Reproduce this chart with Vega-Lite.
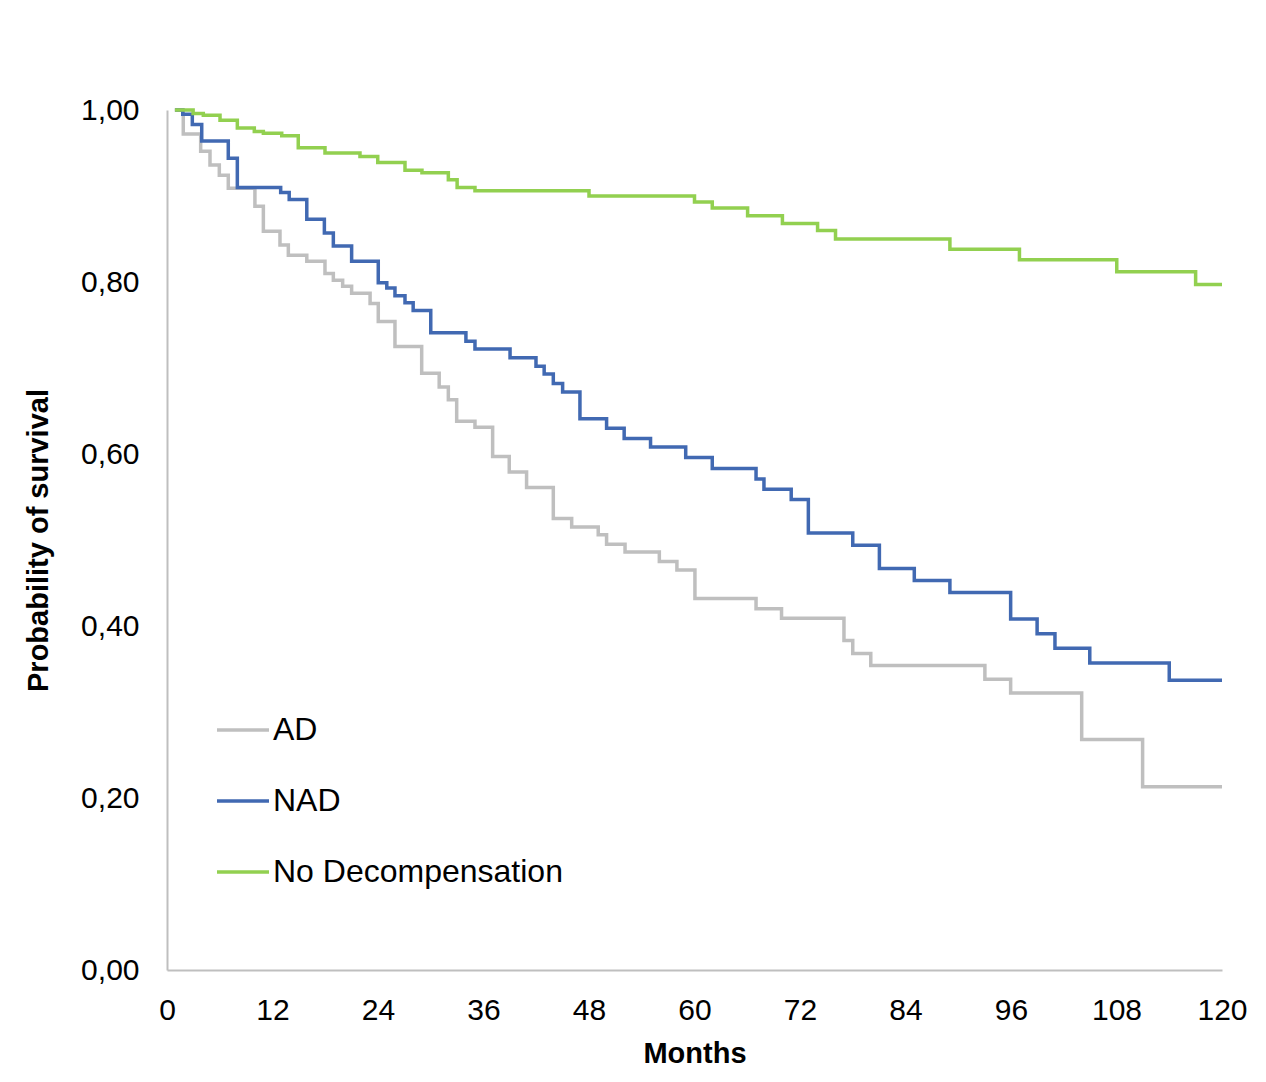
{
  "$schema": "https://vega.github.io/schema/vega-lite/v6.json",
  "width": 1055,
  "height": 860,
  "autosize": {"type": "none"},
  "padding": {"left": 167, "top": 110, "right": 44, "bottom": 112},
  "background": "white",
  "config": {
    "view": {"stroke": null},
    "font": "Liberation Sans",
    "axis": {"grid": false, "ticks": false, "tickSize": 0, "domainColor": "#BFBFBF", "domainWidth": 2, "labelFont": "Liberation Sans", "labelColor": "#000000", "labelFontSize": 30, "titleFont": "Liberation Sans", "titleFontSize": 29, "titleFontWeight": "bold", "titleColor": "#000000"}
  },
  "data": {"values": [
    {"group": "AD", "month": 0.9, "surv": 1.0},
    {"group": "AD", "month": 1.85, "surv": 0.972},
    {"group": "AD", "month": 3.83, "surv": 0.952},
    {"group": "AD", "month": 4.89, "surv": 0.936},
    {"group": "AD", "month": 5.95, "surv": 0.924},
    {"group": "AD", "month": 6.97, "surv": 0.909},
    {"group": "AD", "month": 10.0, "surv": 0.888},
    {"group": "AD", "month": 10.96, "surv": 0.859},
    {"group": "AD", "month": 12.85, "surv": 0.843},
    {"group": "AD", "month": 13.8, "surv": 0.831},
    {"group": "AD", "month": 15.9, "surv": 0.824},
    {"group": "AD", "month": 17.97, "surv": 0.81},
    {"group": "AD", "month": 18.92, "surv": 0.802},
    {"group": "AD", "month": 19.98, "surv": 0.795},
    {"group": "AD", "month": 21.0, "surv": 0.787},
    {"group": "AD", "month": 23.1, "surv": 0.775},
    {"group": "AD", "month": 24.03, "surv": 0.754},
    {"group": "AD", "month": 25.93, "surv": 0.725},
    {"group": "AD", "month": 28.97, "surv": 0.694},
    {"group": "AD", "month": 30.96, "surv": 0.678},
    {"group": "AD", "month": 32.0, "surv": 0.663},
    {"group": "AD", "month": 32.95, "surv": 0.638},
    {"group": "AD", "month": 35.03, "surv": 0.631},
    {"group": "AD", "month": 37.04, "surv": 0.597},
    {"group": "AD", "month": 38.93, "surv": 0.579},
    {"group": "AD", "month": 40.9, "surv": 0.561},
    {"group": "AD", "month": 43.94, "surv": 0.525},
    {"group": "AD", "month": 46.03, "surv": 0.515},
    {"group": "AD", "month": 49.05, "surv": 0.506},
    {"group": "AD", "month": 50.0, "surv": 0.495},
    {"group": "AD", "month": 52.1, "surv": 0.486},
    {"group": "AD", "month": 56.0, "surv": 0.475},
    {"group": "AD", "month": 58.0, "surv": 0.465},
    {"group": "AD", "month": 60.05, "surv": 0.432},
    {"group": "AD", "month": 67.0, "surv": 0.42},
    {"group": "AD", "month": 69.9, "surv": 0.409},
    {"group": "AD", "month": 77.0, "surv": 0.383},
    {"group": "AD", "month": 78.0, "surv": 0.368},
    {"group": "AD", "month": 80.05, "surv": 0.354},
    {"group": "AD", "month": 93.03, "surv": 0.338},
    {"group": "AD", "month": 95.96, "surv": 0.322},
    {"group": "AD", "month": 104.04, "surv": 0.268},
    {"group": "AD", "month": 110.97, "surv": 0.213},
    {"group": "AD", "month": 120.0, "surv": 0.213},
    {"group": "NAD", "month": 0.9, "surv": 1.0},
    {"group": "NAD", "month": 1.79, "surv": 0.995},
    {"group": "NAD", "month": 2.88, "surv": 0.983},
    {"group": "NAD", "month": 3.95, "surv": 0.964},
    {"group": "NAD", "month": 6.97, "surv": 0.944},
    {"group": "NAD", "month": 8.0, "surv": 0.91},
    {"group": "NAD", "month": 12.93, "surv": 0.904},
    {"group": "NAD", "month": 13.9, "surv": 0.896},
    {"group": "NAD", "month": 15.9, "surv": 0.873},
    {"group": "NAD", "month": 17.9, "surv": 0.857},
    {"group": "NAD", "month": 18.92, "surv": 0.842},
    {"group": "NAD", "month": 21.0, "surv": 0.824},
    {"group": "NAD", "month": 24.03, "surv": 0.799},
    {"group": "NAD", "month": 25.0, "surv": 0.793},
    {"group": "NAD", "month": 25.93, "surv": 0.784},
    {"group": "NAD", "month": 27.07, "surv": 0.776},
    {"group": "NAD", "month": 28.0, "surv": 0.767},
    {"group": "NAD", "month": 30.0, "surv": 0.741},
    {"group": "NAD", "month": 34.0, "surv": 0.731},
    {"group": "NAD", "month": 35.03, "surv": 0.722},
    {"group": "NAD", "month": 39.02, "surv": 0.712},
    {"group": "NAD", "month": 41.97, "surv": 0.702},
    {"group": "NAD", "month": 42.9, "surv": 0.693},
    {"group": "NAD", "month": 43.94, "surv": 0.682},
    {"group": "NAD", "month": 45.0, "surv": 0.672},
    {"group": "NAD", "month": 46.97, "surv": 0.641},
    {"group": "NAD", "month": 50.0, "surv": 0.63},
    {"group": "NAD", "month": 52.0, "surv": 0.618},
    {"group": "NAD", "month": 55.0, "surv": 0.608},
    {"group": "NAD", "month": 59.0, "surv": 0.596},
    {"group": "NAD", "month": 62.02, "surv": 0.583},
    {"group": "NAD", "month": 67.0, "surv": 0.571},
    {"group": "NAD", "month": 67.9, "surv": 0.559},
    {"group": "NAD", "month": 71.0, "surv": 0.547},
    {"group": "NAD", "month": 72.95, "surv": 0.508},
    {"group": "NAD", "month": 78.0, "surv": 0.494},
    {"group": "NAD", "month": 81.03, "surv": 0.467},
    {"group": "NAD", "month": 85.0, "surv": 0.453},
    {"group": "NAD", "month": 89.05, "surv": 0.439},
    {"group": "NAD", "month": 95.96, "surv": 0.408},
    {"group": "NAD", "month": 98.97, "surv": 0.391},
    {"group": "NAD", "month": 101.0, "surv": 0.374},
    {"group": "NAD", "month": 104.96, "surv": 0.357},
    {"group": "NAD", "month": 114.0, "surv": 0.337},
    {"group": "NAD", "month": 120.0, "surv": 0.337},
    {"group": "No Decompensation", "month": 0.9, "surv": 1.0},
    {"group": "No Decompensation", "month": 2.97, "surv": 0.996},
    {"group": "No Decompensation", "month": 4.13, "surv": 0.994},
    {"group": "No Decompensation", "month": 6.03, "surv": 0.988},
    {"group": "No Decompensation", "month": 8.0, "surv": 0.979},
    {"group": "No Decompensation", "month": 9.93, "surv": 0.975},
    {"group": "No Decompensation", "month": 10.96, "surv": 0.973},
    {"group": "No Decompensation", "month": 13.05, "surv": 0.97},
    {"group": "No Decompensation", "month": 14.93, "surv": 0.956},
    {"group": "No Decompensation", "month": 17.97, "surv": 0.95},
    {"group": "No Decompensation", "month": 21.95, "surv": 0.946},
    {"group": "No Decompensation", "month": 23.97, "surv": 0.939},
    {"group": "No Decompensation", "month": 27.07, "surv": 0.93},
    {"group": "No Decompensation", "month": 29.0, "surv": 0.927},
    {"group": "No Decompensation", "month": 32.0, "surv": 0.919},
    {"group": "No Decompensation", "month": 33.0, "surv": 0.91},
    {"group": "No Decompensation", "month": 35.03, "surv": 0.906},
    {"group": "No Decompensation", "month": 48.0, "surv": 0.9},
    {"group": "No Decompensation", "month": 60.0, "surv": 0.893},
    {"group": "No Decompensation", "month": 62.02, "surv": 0.886},
    {"group": "No Decompensation", "month": 66.04, "surv": 0.877},
    {"group": "No Decompensation", "month": 70.0, "surv": 0.868},
    {"group": "No Decompensation", "month": 74.0, "surv": 0.86},
    {"group": "No Decompensation", "month": 76.04, "surv": 0.85},
    {"group": "No Decompensation", "month": 89.05, "surv": 0.838},
    {"group": "No Decompensation", "month": 96.96, "surv": 0.826},
    {"group": "No Decompensation", "month": 108.03, "surv": 0.812},
    {"group": "No Decompensation", "month": 117.0, "surv": 0.797},
    {"group": "No Decompensation", "month": 120.0, "surv": 0.797}
  ]},
  "mark": {"type": "line", "interpolate": "step-after", "strokeWidth": 3.5, "clip": false},
  "encoding": {
    "x": {
      "field": "month", "type": "quantitative",
      "scale": {"domain": [0, 120], "nice": false, "zero": false},
      "axis": {"values": [0, 12, 24, 36, 48, 60, 72, 84, 96, 108, 120], "labelPadding": 25, "labelFlush": false, "labelOverlap": false, "title": "Months", "titleY": 83, "titleBaseline": "middle", "titlePadding": 0}
    },
    "y": {
      "field": "surv", "type": "quantitative",
      "scale": {"domain": [0, 1], "nice": false},
      "axis": {"values": [0, 0.2, 0.4, 0.6, 0.8, 1.0], "labelExpr": "replace(format(datum.value, '.2f'), '.', ',')", "labelPadding": 28, "labelFlush": false, "labelOverlap": false, "title": "Probability of survival", "titleX": -129, "titleY": 430, "titleAngle": -90, "titleAlign": "center", "titleBaseline": "middle"}
    },
    "color": {
      "field": "group", "type": "nominal",
      "scale": {"domain": ["AD", "NAD", "No Decompensation"], "range": ["#BFBFBF", "#4169B2", "#92D050"]},
      "legend": {"title": null, "orient": "none", "legendX": 48, "legendY": 592, "direction": "vertical", "symbolType": "stroke", "symbolSize": 2704, "symbolStrokeWidth": 3.5, "labelFontSize": 32, "labelFont": "Liberation Sans", "labelColor": "#000000", "labelOffset": 2, "rowPadding": 27, "padding": 0, "labelLimit": 500}
    }
  }
}
